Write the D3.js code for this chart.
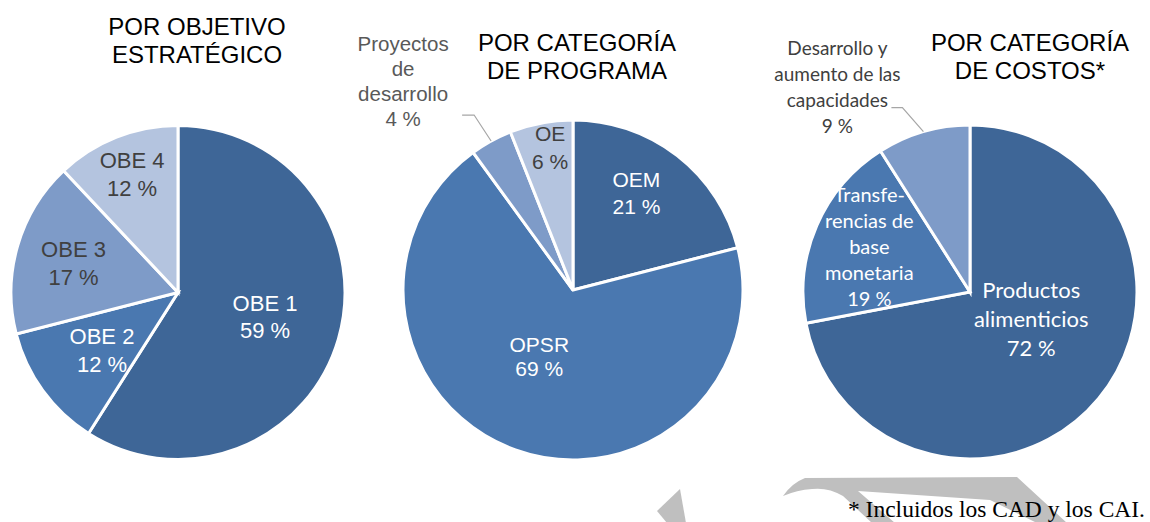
<!DOCTYPE html>
<html>
<head>
<meta charset="utf-8">
<script src="https://cdn.jsdelivr.net/npm/d3@7"></script>
<style>
  html, body { margin: 0; padding: 0; background: #fff; }
  svg { display: block; }
</style>
</head>
<body>
<svg id="chart" width="1150" height="522"></svg>
<script>
// data
const objCategories = ["OBE 1", "OBE 2", "OBE 3", "OBE 4"];
const objValues = [59, 12, 17, 12];

const progCategories = ["OEM", "OPSR", "Proyectos de desarrollo", "OE"];
const progValues = [21, 69, 4, 6];

const costCategories = ["Productos alimenticios", "Transferencias de base monetaria", "Desarrollo y aumento de las capacidades"];
const costValues = [72, 19, 9];

// how each category label is broken into lines
const objLines = [["OBE 1"], ["OBE 2"], ["OBE 3"], ["OBE 4"]];
const progLines = [["OEM"], ["OPSR"], ["Proyectos", "de", "desarrollo"], ["OE"]];
const costLines = [["Productos", "alimenticios"], ["Transfe-", "rencias de", "base", "monetaria"], ["Desarrollo y", "aumento de las", "capacidades"]];

const titles = [
  ["POR OBJETIVO", "ESTRATÉGICO"],
  ["POR CATEGORÍA", "DE PROGRAMA"],
  ["POR CATEGORÍA", "DE COSTOS*"]
];
const footnote = "* Incluidos los CAD y los CAI.";

const dark = "#3e6697", mid = "#4a78b0", light = "#7e9bc8", lightest = "#b4c4df";
const arial = "'Liberation Sans', Arial, sans-serif";
const calibri = "Lato, 'Open Sans', sans-serif";

const svg = d3.select("#chart");

// grey watermark fragments at the bottom
const wm = svg.append("g").attr("fill", "#bfbfbf");
wm.append("path").attr("d", "M680,489 L686,523 L667,523 L657,511 Z");
wm.append("path").attr("d",
  "M783,496 Q792,483 805,478 L1017,477 L1067,523 L1037,523 L990,500 L858,491 L895,523 L872,523 L843,496 Q828,487 812,489 Q797,490 783,496 Z");

function drawPie(cfg) {
  const g = svg.append("g").attr("transform", `translate(${cfg.cx},${cfg.cy})`);
  const pie = d3.pie().sort(null).value(d => d)(cfg.values);
  const arc = d3.arc().innerRadius(0).outerRadius(cfg.r);

  g.selectAll("path.slice")
    .data(pie)
    .join("path")
    .attr("class", "slice")
    .attr("d", arc)
    .attr("fill", (d, i) => cfg.colors[i])
    .attr("stroke", "#fff")
    .attr("stroke-width", 3)
    .attr("stroke-linejoin", "miter");

  pie.forEach((d, i) => {
    const lines = cfg.lines[i].concat([d.value + " %"]);
    const lay = cfg.layout[i];
    const fs = lay.size;
    const lh = lay.lh;
    const tx = g.append("text")
      .attr("text-anchor", "middle")
      .attr("font-family", cfg.font)
      .attr("font-size", fs)
      .attr("fill", lay.color);

    let x;
    if (lay.outside) {
      // leader line from slice edge to an elbow, label sits left of it
      const a = (d.startAngle + d.endAngle) / 2;
      const ex = Math.sin(a) * cfg.r, ey = -Math.cos(a) * cfg.r;
      const elbow = [ex + lay.elbow[0], ey + lay.elbow[1]];
      g.append("path")
        .attr("d", `M${ex},${ey} L${elbow[0]},${elbow[1]} L${elbow[0] - lay.tail},${elbow[1]}`)
        .attr("fill", "none")
        .attr("stroke", "#a6a6a6")
        .attr("stroke-width", 1.2);
      x = elbow[0] + lay.text[0];
      const lastBase = elbow[1] + lay.text[1];
      tx.attr("y", lastBase - (lines.length - 1) * lh);
    } else {
      const a = (d.startAngle + d.endAngle) / 2 + lay.da * Math.PI / 180;
      const rr = cfg.r * lay.rf;
      x = Math.sin(a) * rr;
      const yCenter = -Math.cos(a) * rr;
      tx.attr("y", yCenter - (lines.length - 1) * lh / 2 + fs * 0.36);
    }
    tx.selectAll("tspan")
      .data(lines)
      .join("tspan")
      .attr("x", x)
      .attr("dy", (t, j) => j === 0 ? 0 : lh)
      .text(t => t);
  });

  const t = svg.append("text")
    .attr("text-anchor", "middle")
    .attr("font-family", arial)
    .attr("font-size", 24)
    .attr("fill", "#000")
    .attr("y", cfg.titleY);
  t.selectAll("tspan")
    .data(cfg.title)
    .join("tspan")
    .attr("x", cfg.titleX)
    .attr("dy", (s, j) => j === 0 ? 0 : 28)
    .text(s => s);
}

drawPie({
  cx: 178, cy: 292.5, r: 167,
  values: objValues, lines: objLines,
  colors: [dark, mid, light, lightest],
  font: arial,
  layout: [
    { rf: 0.54, da: -1, size: 22, lh: 27, color: "#fff" },
    { rf: 0.57, da: -1, size: 22, lh: 28, color: "#fff" },
    { rf: 0.65, da: -0.5, size: 22, lh: 28, color: "#404040" },
    { rf: 0.76, da: 0.4, size: 22, lh: 28, color: "#404040" }
  ],
  title: titles[0], titleX: 197, titleY: 35
});

drawPie({
  cx: 573, cy: 290, r: 170,
  values: progValues, lines: progLines,
  colors: [dark, mid, light, lightest],
  font: arial,
  layout: [
    { rf: 0.68, da: -4.5, size: 21, lh: 27, color: "#fff" },
    { rf: 0.44, da: 7, size: 21, lh: 24, color: "#fff" },
    { outside: true, elbow: [-17, -26], tail: 12, text: [-71, 11], size: 20.5, lh: 25, color: "#595959" },
    { rf: 0.85, da: 1.7, size: 21, lh: 27.5, color: "#404040" }
  ],
  title: titles[1], titleX: 577, titleY: 50.7
});

drawPie({
  cx: 970, cy: 292, r: 167,
  values: costValues, lines: costLines,
  colors: [dark, mid, light],
  font: calibri,
  layout: [
    { rf: 0.40, da: -16, size: 22, lh: 29, color: "#fff" },
    { rf: 0.66, da: 0.6, size: 20, lh: 26, color: "#fff" },
    { outside: true, elbow: [-21, -24], tail: 11, text: [-65, 25], size: 19, lh: 26, color: "#404040" }
  ],
  title: titles[2], titleX: 1030, titleY: 50.7
});

svg.append("text")
  .attr("x", 1145)
  .attr("y", 517)
  .attr("text-anchor", "end")
  .attr("font-family", "'Liberation Serif', 'Times New Roman', serif")
  .attr("font-size", 23.5)
  .attr("fill", "#000")
  .text(footnote);
</script>
</body>
</html>
